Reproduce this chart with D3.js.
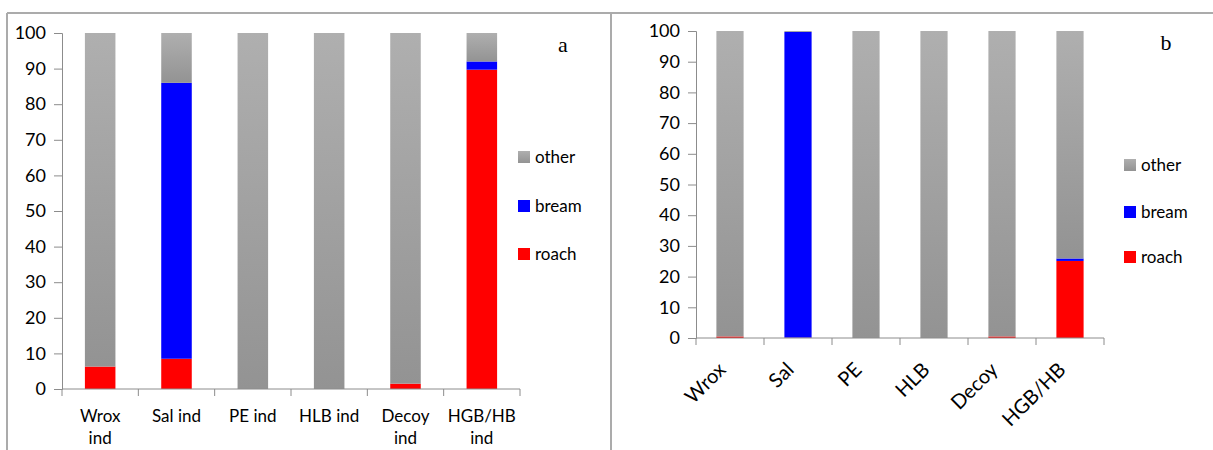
<!DOCTYPE html>
<html>
<head>
<meta charset="utf-8">
<script src="https://cdn.jsdelivr.net/npm/d3@7"></script>
<style>
  body { margin: 0; background: #fff; }
  svg { display: block; font-family: Lato, "Open Sans", sans-serif; }
</style>
</head>
<body>
<script>
// data (percent of catch)
const catsA = ["Wrox ind", "Sal ind", "PE ind", "HLB ind", "Decoy ind", "HGB/HB ind"];
const catsB = ["Wrox", "Sal", "PE", "HLB", "Decoy", "HGB/HB"];
const seriesNames = ["roach", "bream", "other"];
const roachA = [6.3, 8.5, 0, 0, 1.5, 89.7];
const breamA = [0, 77.5, 0, 0, 0, 2.3];
const otherA = [93.7, 14, 100, 100, 98.5, 8];
const roachB = [0.5, 0.1, 0, 0, 0.5, 25.1];
const breamB = [0, 99.6, 0, 0, 0, 0.8];
const otherB = [99.5, 0.3, 100, 100, 99.5, 74.1];
const yTicks = [0, 10, 20, 30, 40, 50, 60, 70, 80, 90, 100];

const width = 1213, height = 450;
const colors = { roach: "#ff0000", bream: "#0000ff", other: "url(#greyGrad)" };

const svg = d3.select("body").append("svg")
  .attr("width", width).attr("height", height);

const grad = svg.append("defs").append("linearGradient")
  .attr("id", "greyGrad").attr("x1", 0).attr("y1", 0).attr("x2", 0).attr("y2", 1);
grad.append("stop").attr("offset", "0%").attr("stop-color", "#afafaf");
grad.append("stop").attr("offset", "100%").attr("stop-color", "#939393");

// outer frame lines
const frame = svg.append("g").attr("stroke", "#ababab").attr("stroke-width", 2);
frame.append("line").attr("x1", 7).attr("x2", width).attr("y1", 13).attr("y2", 13);
frame.append("line").attr("x1", 7).attr("x2", 7).attr("y1", 13).attr("y2", height);
frame.append("line").attr("x1", 611).attr("x2", 611).attr("y1", 13).attr("y2", height);

function drawPanel(opt) {
  const rows = opt.cats.map((c, i) => ({ cat: c, roach: opt.roach[i], bream: opt.bream[i], other: opt.other[i] }));
  const stacked = d3.stack().keys(seriesNames)(rows);

  const x = d3.scaleBand().domain(opt.cats).range([opt.x0, opt.x1]).paddingInner(0.6).paddingOuter(0.3);
  const y = d3.scaleLinear().domain([0, 100]).range([opt.y0, opt.y1]);
  const g = svg.append("g");

  g.selectAll("g.series").data(stacked).enter().append("g")
    .attr("fill", d => colors[d.key])
    .selectAll("rect").data(d => d).enter().append("rect")
    .attr("x", d => x(d.data.cat))
    .attr("width", x.bandwidth())
    .attr("y", d => y(d[1]))
    .attr("height", d => y(d[0]) - y(d[1]));

  // y axis
  const ya = g.append("g").attr("transform", `translate(${opt.x0},0)`)
    .call(d3.axisLeft(y).tickValues(yTicks).tickSize(8).tickPadding(8));
  ya.selectAll("path, line").attr("stroke", "#8c8c8c");
  ya.selectAll("text").attr("font-size", 18).attr("fill", "#000").attr("font-family", "Lato, sans-serif");

  // x axis with boundary ticks
  const xa = g.append("g").attr("transform", `translate(0,${opt.y0})`);
  xa.append("line").attr("x1", opt.x0).attr("x2", opt.x1).attr("stroke", "#8c8c8c");
  const bounds = opt.cats.map(c => x(c) - x.step() * x.paddingInner() / 2).concat([opt.x1]);
  xa.selectAll("line.tk").data(bounds).enter().append("line")
    .attr("x1", d => d).attr("x2", d => d).attr("y1", 0).attr("y2", 7).attr("stroke", "#8c8c8c");

  const labels = xa.selectAll("text.lbl").data(opt.cats).enter().append("text")
    .attr("fill", "#000");
  if (opt.rotate) {
    labels.attr("text-anchor", "end").attr("font-size", 20)
      .attr("transform", d => `translate(${x(d) + x.bandwidth() / 2 - 3},${33}) rotate(-45)`)
      .text(d => d);
  } else {
    labels.attr("text-anchor", "middle").attr("font-size", 17)
      .each(function(d) {
        const parts = d.length > 7 ? d.split(" ") : [d];
        const t = d3.select(this);
        parts.forEach((p, i) => t.append("tspan")
          .attr("x", x(d) + x.bandwidth() / 2).attr("y", 33 + i * 22).text(p));
      });
  }

  // legend (top-down: other, bream, roach)
  const leg = g.append("g");
  const legItems = seriesNames.slice().reverse();
  legItems.forEach((k, i) => {
    const ly = opt.legY[i];
    leg.append("rect").attr("x", opt.legX).attr("y", ly - 6).attr("width", 12).attr("height", 12)
      .attr("fill", colors[k]);
    leg.append("text").attr("x", opt.legX + 17).attr("y", ly).attr("dy", "0.35em")
      .attr("font-size", 17).text(k);
  });

  g.append("text").attr("x", opt.tagX).attr("y", opt.tagY)
    .attr("font-family", "'Liberation Serif', 'DejaVu Serif', serif").attr("font-size", 22)
    .attr("text-anchor", "middle").text(opt.tag);
}

drawPanel({
  cats: catsA, roach: roachA, bream: breamA, other: otherA,
  x0: 62, x1: 520, y0: 389, y1: 33, rotate: false,
  legX: 518, legY: [157, 206, 254], tag: "a", tagX: 563, tagY: 52
});
drawPanel({
  cats: catsB, roach: roachB, bream: breamB, other: otherB,
  x0: 696, x1: 1104, y0: 338, y1: 31, rotate: true,
  legX: 1124, legY: [165, 212, 257], tag: "b", tagX: 1166, tagY: 50
});
</script>
</body>
</html>
